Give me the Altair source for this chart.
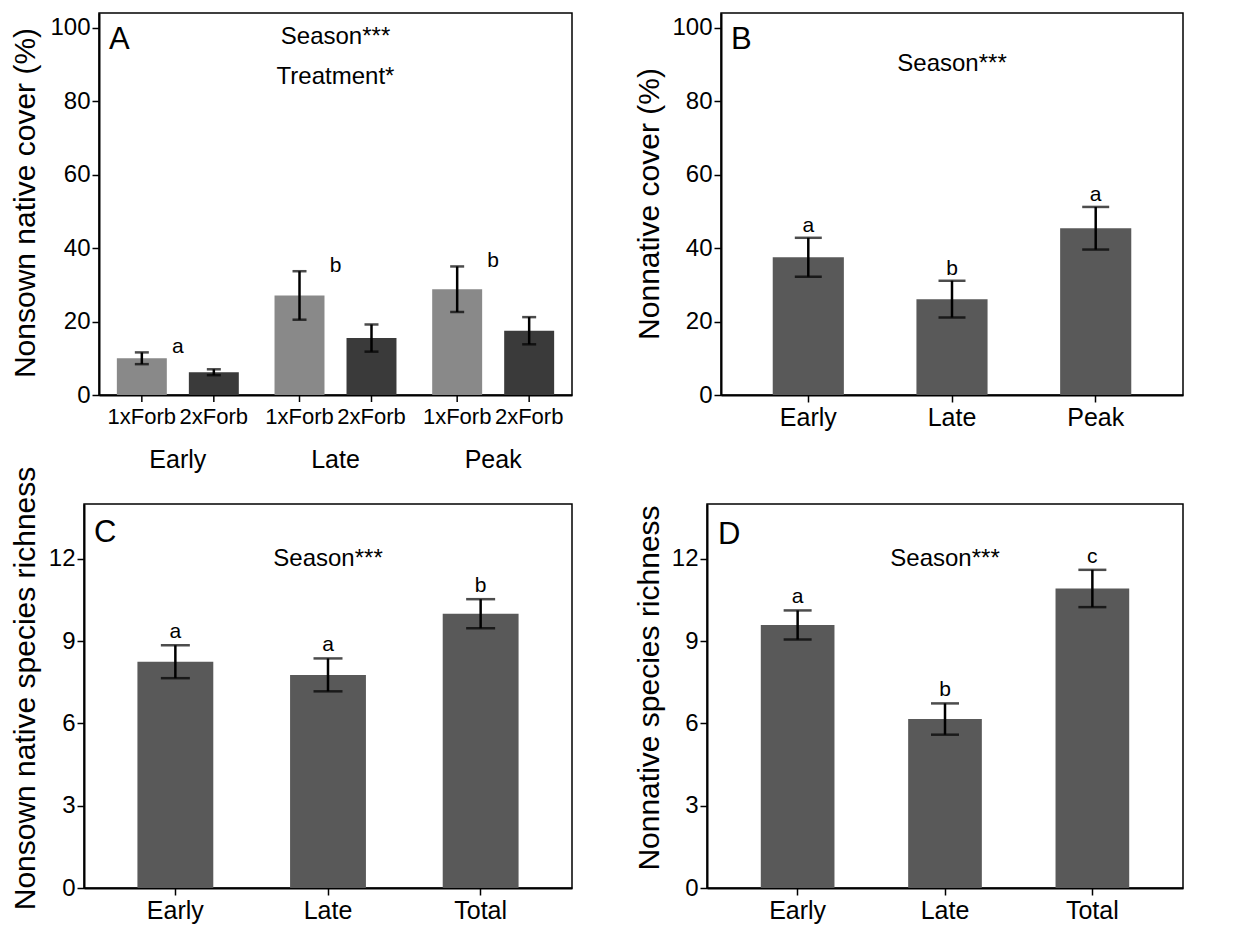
import altair as alt
import pandas as pd

FONT = "Liberation Sans"

# ---------------- data ----------------
# Panel A: nonsown native cover (%)
a_seasons = ["Early", "Late", "Peak"]
a_treatments = ["1xForb", "2xForb"]
a_season = ["Early", "Early", "Late", "Late", "Peak", "Peak"]
a_treat = ["1xForb", "2xForb", "1xForb", "2xForb", "1xForb", "2xForb"]
a_mean = [10.0, 6.2, 27.1, 15.5, 28.8, 17.5]
a_se = [1.6, 0.8, 6.6, 3.7, 6.2, 3.7]
a_letters = ["a", "b", "b"]

# Panel B: nonnative cover (%)
b_cat = ["Early", "Late", "Peak"]
b_mean = [37.5, 26.1, 45.4]
b_se = [5.3, 5.0, 5.8]
b_letters = ["a", "b", "a"]

# Panel C: nonsown native species richness
c_cat = ["Early", "Late", "Total"]
c_mean = [8.25, 7.77, 10.0]
c_se = [0.6, 0.6, 0.53]
c_letters = ["a", "a", "b"]

# Panel D: nonnative species richness
d_cat = ["Early", "Late", "Total"]
d_mean = [9.59, 6.16, 10.92]
d_se = [0.53, 0.57, 0.68]
d_letters = ["a", "b", "c"]

cover_ticks = [0, 20, 40, 60, 80, 100]
rich_ticks = [0, 3, 6, 9, 12]

FRAME = alt.ViewBackground(stroke="black", strokeWidth=1.5)
NOFRAME = alt.ViewBackground(stroke="transparent", strokeWidth=0)


def y_axis(title, values, tx, ty):
    return alt.Axis(values=values, title=title, titleX=tx, titleY=ty,
                    titleBaseline="middle", titleAngle=-90, titleAlign="center")


def note(text, x, y, size=24):
    return alt.Chart(pd.DataFrame({"t": [text]})).mark_text(
        fontSize=size, font=FONT, color="black", baseline="middle"
    ).encode(x=alt.value(x), y=alt.value(y), text="t:N")


def panel_letter(text, x, y):
    return alt.Chart(pd.DataFrame({"t": [text]})).mark_text(
        fontSize=31, font=FONT, color="black", align="left", baseline="middle"
    ).encode(x=alt.value(x), y=alt.value(y), text="t:N")


# ---------------- Panel A ----------------
dfA = pd.DataFrame({"season": a_season, "treat": a_treat, "mean": a_mean, "se": a_se})
dfA["lo"] = dfA["mean"] - dfA["se"]
dfA["hi"] = dfA["mean"] + dfA["se"]
dfA_let = pd.DataFrame({
    "season": a_seasons,
    "letter": a_letters,
    "top": dfA.groupby("season")["hi"].max().reindex(a_seasons).values,
})

WA, HA = 473, 382
yscA = alt.Scale(domain=[0, 104], nice=False)
axA = y_axis("Nonsown native cover (%)", cover_ticks, -74, 189.5)
xA = alt.X("season:N", sort=a_seasons,
           scale=alt.Scale(paddingInner=0, paddingOuter=0),
           axis=alt.Axis(title=None, ticks=False, tickSize=0, labelPadding=52,
                         labelFontSize=25, labelAngle=0))
xoA = alt.XOffset("treat:N", sort=a_treatments,
                  scale=alt.Scale(paddingInner=0.306, paddingOuter=0.248))

barsA = alt.Chart(dfA).mark_bar().encode(
    x=xA, xOffset=xoA,
    y=alt.Y("mean:Q", scale=yscA, axis=axA),
    color=alt.Color("treat:N", scale=alt.Scale(domain=a_treatments, range=["#898989", "#3a3a3a"]), legend=None),
)
errA = alt.Chart(dfA).mark_rule(color="black", strokeWidth=2.5).encode(
    x=xA, xOffset=xoA,
    y=alt.Y("lo:Q", scale=yscA, axis=axA), y2="hi:Q")
capLoA = alt.Chart(dfA).mark_tick(color="black", size=14, thickness=2.5).encode(
    x=xA, xOffset=xoA, y=alt.Y("lo:Q", scale=yscA, axis=axA))
capHiA = alt.Chart(dfA).mark_tick(color="black", size=14, thickness=2.5).encode(
    x=xA, xOffset=xoA, y=alt.Y("hi:Q", scale=yscA, axis=axA))
ticksA = alt.Chart(dfA).mark_rule(color="black", strokeWidth=1.5).encode(
    x=xA, xOffset=xoA, y=alt.value(HA), y2=alt.value(HA + 7))
treatLabA = alt.Chart(dfA).mark_text(fontSize=22, font=FONT, color="black", baseline="top").encode(
    x=xA, xOffset=xoA, y=alt.value(HA + 12), text="treat:N")
letA = alt.Chart(dfA_let).mark_text(fontSize=21, font=FONT, color="black", baseline="middle", dy=-5).encode(
    x=xA, y=alt.Y("top:Q", scale=yscA, axis=axA), text="letter:N")

panelA = alt.layer(
    barsA, errA, capLoA, capHiA, ticksA, treatLabA, letA,
    note("Season***", WA / 2, 24), note("Treatment*", WA / 2, 64),
    panel_letter("A", 10, 27),
).properties(width=WA, height=HA, view=FRAME)


# ---------------- single-factor panels ----------------
def simple_panel(cats, means, ses, letters, W, H, ydom, yticks, ytitle, tx, ty,
                 letter, letter_xy, note_y, cap, dy, pi=0.5, po=0.36):
    df = pd.DataFrame({"cat": cats, "mean": means, "se": ses, "letter": letters})
    df["lo"] = df["mean"] - df["se"]
    df["hi"] = df["mean"] + df["se"]
    ysc = alt.Scale(domain=ydom, nice=False)
    ax = y_axis(ytitle, yticks, tx, ty)
    x = alt.X("cat:N", sort=cats, scale=alt.Scale(paddingInner=pi, paddingOuter=po),
              axis=alt.Axis(title=None, labelAngle=0, labelFontSize=25, labelPadding=3))
    bars = alt.Chart(df).mark_bar(color="#595959").encode(
        x=x, y=alt.Y("mean:Q", scale=ysc, axis=ax))
    err = alt.Chart(df).mark_rule(color="black", strokeWidth=2.5).encode(
        x=x, y=alt.Y("lo:Q", scale=ysc, axis=ax), y2="hi:Q")
    capLo = alt.Chart(df).mark_tick(color="black", size=cap, thickness=2.5).encode(
        x=x, y=alt.Y("lo:Q", scale=ysc, axis=ax))
    capHi = alt.Chart(df).mark_tick(color="black", size=cap, thickness=2.5).encode(
        x=x, y=alt.Y("hi:Q", scale=ysc, axis=ax))
    let = alt.Chart(df).mark_text(fontSize=21, font=FONT, color="black", baseline="alphabetic", dy=dy).encode(
        x=x, y=alt.Y("hi:Q", scale=ysc, axis=ax), text="letter:N")
    return alt.layer(
        bars, err, capLo, capHi, let,
        note("Season***", W / 2, note_y),
        panel_letter(letter, letter_xy[0], letter_xy[1]),
    ).properties(width=W, height=H, view=FRAME)


panelB = simple_panel(b_cat, b_mean, b_se, b_letters, 462, 382, [0, 104], cover_ticks,
                      "Nonnative cover (%)", -72, 190.5, "B", (10, 27), 51, 27, -6,
                      pi=0.505, po=0.36)
panelC = simple_panel(c_cat, c_mean, c_se, c_letters, 488, 384, [0, 14], rich_ticks,
                      "Nonsown native species richness", -59, 184, "C", (10, 28.5), 55, 29, -7,
                      pi=0.503, po=0.35)
panelD = simple_panel(d_cat, d_mean, d_se, d_letters, 476, 384, [0, 14], rich_ticks,
                      "Nonnative species richness", -58, 183.5, "D", (11, 30.5), 55, 28, -7,
                      pi=0.5, po=0.365)


# invisible 1-px spacers: each row starts with one, so rows are aligned on
# their left edges rather than on the first plot's frame
def spacer():
    return alt.Chart(pd.DataFrame({"v": [0]})).mark_point(
        opacity=0, size=0, strokeWidth=0, filled=True
    ).encode(
        x=alt.value(0.5), y=alt.value(0.5)
    ).properties(width=1, height=1, view=NOFRAME)


row1 = alt.hconcat(alt.hconcat(spacer(), panelA, spacing=-1), panelB, spacing=60)
row2 = alt.hconcat(alt.hconcat(spacer(), panelC, spacing=-1), panelD, spacing=60)

chart = alt.vconcat(row1, row2, spacing=-8).properties(
    padding={"left": 1, "top": 4, "right": 5, "bottom": 2}
).configure_axis(
    domainColor="black", domainWidth=2, tickColor="black", tickWidth=1.5, tickSize=7,
    labelColor="black", titleColor="black", labelFont=FONT, titleFont=FONT,
    labelFontSize=24, titleFontSize=30, titleFontWeight="normal", grid=False,
    labelPadding=2,
).configure_text(font=FONT)

chart.save("out.html", embed_options={"renderer": "svg", "actions": False})
